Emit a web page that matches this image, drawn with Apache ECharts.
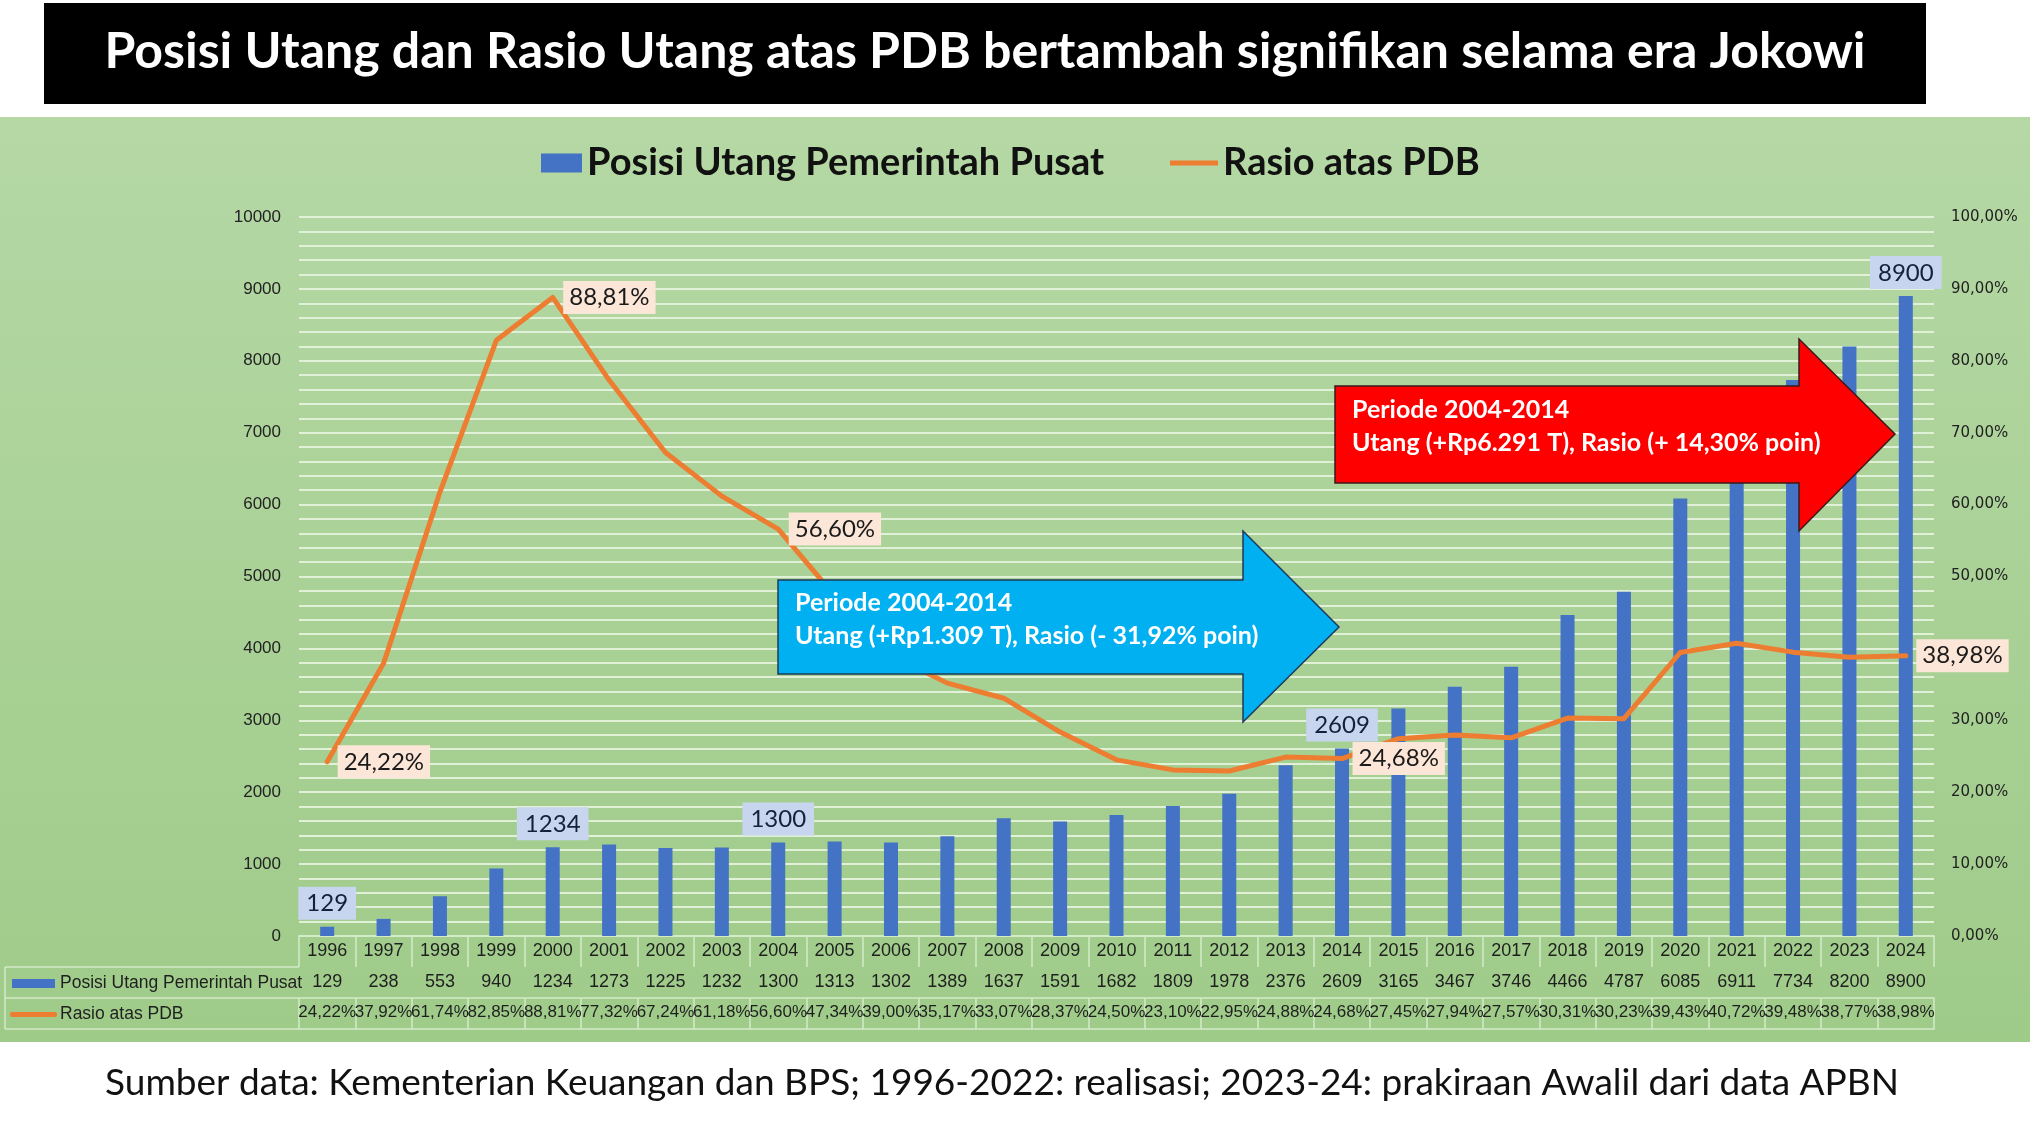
<!DOCTYPE html>
<html>
<head>
<meta charset="utf-8">
<script src="https://cdn.jsdelivr.net/npm/echarts@6/dist/echarts.min.js"></script>
<style>html,body{margin:0;padding:0;background:#ffffff}#c{width:2030px;height:1139px}</style>
</head>
<body>
<div id="c"></div>
<script>
// ---------- data ----------
const years = ['1996','1997','1998','1999','2000','2001','2002','2003','2004','2005','2006','2007','2008','2009','2010','2011','2012','2013','2014','2015','2016','2017','2018','2019','2020','2021','2022','2023','2024'];
const debt = [129,238,553,940,1234,1273,1225,1232,1300,1313,1302,1389,1637,1591,1682,1809,1978,2376,2609,3165,3467,3746,4466,4787,6085,6911,7734,8200,8900];
const ratio = [24.22,37.92,61.74,82.85,88.81,77.32,67.24,61.18,56.60,47.34,39.00,35.17,33.07,28.37,24.50,23.10,22.95,24.88,24.68,27.45,27.94,27.57,30.31,30.23,39.43,40.72,39.48,38.77,38.98];
const labelledYears = ['1996','2000','2004','2014','2024'];
const seriesNames = ['Posisi Utang Pemerintah Pusat','Rasio atas PDB'];
const titleText = 'Posisi Utang dan Rasio Utang atas PDB bertambah signifikan selama era Jokowi';
const footerText = 'Sumber data: Kementerian Keuangan dan BPS; 1996-2022: realisasi; 2023-24: prakiraan Awalil dari data APBN';
const blueArrowText = ['Periode 2004-2014','Utang (+Rp1.309 T), Rasio (- 31,92% poin)'];
const redArrowText = ['Periode 2004-2014','Utang (+Rp6.291 T), Rasio (+ 14,30% poin)'];

// ---------- font check ----------
function hasFont(name){
  const ctx=document.createElement('canvas').getContext('2d');
  const s='Posisi Utang 0123456789';
  ctx.font='20px monospace'; const a=ctx.measureText(s).width;
  ctx.font="20px '"+name+"', monospace"; const b=ctx.measureText(s).width;
  return Math.abs(a-b)>0.5;
}
const narrow = hasFont('Liberation Sans Narrow');
const NF = narrow ? "'Liberation Sans Narrow', sans-serif" : "'Liberation Sans', sans-serif";
const NS = narrow ? 20 : 18;      // years / values row
const NSP = narrow ? 20 : 17;     // ratio row

const pct = v => v.toFixed(2).replace('.',',') + '%';

const BLUE='#4472C4', ORANGE='#ED7D31';
const TBL='#d4eac8';

function tableAxis(offset, fmt, showTick, size){
  return {
    type:'category', data:years, position:'bottom', offset:offset,
    axisLine:{show:true, lineStyle:{color:TBL, width:1.5}},
    axisTick:{show:showTick, interval:0, length:31, lineStyle:{color:TBL, width:1.5}},
    axisLabel:{show:!!fmt, interval:0, margin:6, formatter:fmt||'', fontFamily:NF, fontSize:size||NS, color:'#1f1f1f'},
    splitLine:{show:false}
  };
}

const chart = echarts.init(document.getElementById('c'), null, {renderer:'canvas'});

const legendText = {fontFamily:'Lato', fontWeight:'bold', fontSize:38, color:'#111'};
const option = {
  animation:false,
  grid:{left:299, right:96, top:217, bottom:203},
  legend:[
    {data:[seriesNames[0]], left:536, top:139, icon:'rect', itemWidth:41, itemHeight:19, itemGap:0, textStyle:legendText},
    {data:[seriesNames[1]], left:1165, top:139, icon:'rect', itemWidth:48, itemHeight:5, itemGap:0, textStyle:legendText}
  ],
  xAxis:[
    tableAxis(0, (v)=>v, true, NS),
    tableAxis(31, (v,i)=>String(debt[i]), true, NS),
    tableAxis(62, (v,i)=>pct(ratio[i]), true, NSP),
    tableAxis(93, null, false)
  ],
  yAxis:[
    {type:'value', min:0, max:10000, interval:200,
     axisLine:{show:false}, axisTick:{show:false},
     axisLabel:{formatter:v=> (v%1000===0 ? String(v) : ''), fontFamily:NF, fontSize:17, color:'#222', margin:18},
     splitLine:{lineStyle:{color:'#e0f1d7', width:2}}},
    {type:'value', min:0, max:100, interval:10, position:'right',
     axisLine:{show:false}, axisTick:{show:false},
     axisLabel:{formatter:v=>pct(v), fontFamily:'DejaVu Sans', fontSize:15, color:'#222', margin:17},
     splitLine:{show:false}}
  ],
  series:[
    {name:seriesNames[0], type:'bar', xAxisIndex:0, yAxisIndex:0, barWidth:14,
     itemStyle:{color:BLUE},
     label:{position:'top', distance:7, backgroundColor:'#c7d5ee', padding:[5,8,4,8],
            fontFamily:'Lato', fontSize:24, color:'#16203a', formatter:p=>String(p.value)},
     data:debt.map((v,i)=>({value:v, label:{show:labelledYears.includes(years[i])}})),
     z:2},
    {name:seriesNames[1], type:'line', xAxisIndex:0, yAxisIndex:1, smooth:false,
     symbol:'circle', symbolSize:1, showSymbol:true, showAllSymbol:true,
     itemStyle:{color:ORANGE}, lineStyle:{color:ORANGE, width:5, cap:'round', join:'round'},
     label:{position:'right', distance:10, backgroundColor:'#fce6d8', padding:[5,6,4,6],
            fontFamily:'Lato', fontSize:24, color:'#1a1a1a', formatter:p=>pct(p.value)},
     data:ratio.map((v,i)=>({value:v, label:{show:labelledYears.includes(years[i])}})),
     z:3}
  ],
  graphic:[
    {type:'rect', z:-10, silent:true, shape:{x:0,y:117,width:2030,height:925},
     style:{fill:{type:'linear',x:0,y:0,x2:0,y2:1,colorStops:[{offset:0,color:'#b5d8a5'},{offset:1,color:'#9fcb89'}]}}},
    {type:'rect', z:10, shape:{x:44,y:3,width:1882,height:101}, style:{fill:'#000'}},
    {type:'text', z:11, x:985, y:52, style:{text:titleText, fill:'#fff', font:'bold 50px Lato', textAlign:'center', textVerticalAlign:'middle'}},
    {type:'text', z:11, x:1002, y:1083, style:{text:footerText, fill:'#111', font:'37px Lato', textAlign:'center', textVerticalAlign:'middle'}},
    // table left part
    {type:'line', z:5, shape:{x1:5,y1:967,x2:299,y2:967}, style:{stroke:TBL, lineWidth:1.5}},
    {type:'line', z:5, shape:{x1:5,y1:998,x2:299,y2:998}, style:{stroke:TBL, lineWidth:1.5}},
    {type:'line', z:5, shape:{x1:5,y1:1029,x2:299,y2:1029}, style:{stroke:TBL, lineWidth:1.5}},
    {type:'line', z:5, shape:{x1:5,y1:967,x2:5,y2:1029}, style:{stroke:TBL, lineWidth:1.5}},
    {type:'rect', z:5, shape:{x:12,y:979,width:43,height:9}, style:{fill:BLUE}},
    {type:'rect', z:5, shape:{x:10,y:1012,width:47,height:5, r:2}, style:{fill:ORANGE}},
    {type:'text', z:5, x:60, y:983, style:{text:seriesNames[0], fill:'#1f1f1f', font:'17.5px '+NF, textAlign:'left', textVerticalAlign:'middle'}},
    {type:'text', z:5, x:60, y:1014, style:{text:seriesNames[1], fill:'#1f1f1f', font:'17.5px '+NF, textAlign:'left', textVerticalAlign:'middle'}},
    // blue arrow
    {type:'polygon', z:20, shape:{points:[[778,580],[1243,580],[1243,531],[1339,627],[1243,722],[1243,674],[778,674]]},
     style:{fill:'#00b0f0', stroke:'#1f3a5a', lineWidth:1.5}},
    {type:'text', z:21, x:795, y:603, style:{text:blueArrowText[0], fill:'#fff', font:'bold 25px Lato', textAlign:'left', textVerticalAlign:'middle'}},
    {type:'text', z:21, x:795, y:636, style:{text:blueArrowText[1], fill:'#fff', font:'bold 25px Lato', textAlign:'left', textVerticalAlign:'middle'}},
    // red arrow
    {type:'polygon', z:20, shape:{points:[[1335,386],[1799,386],[1799,339],[1895,434],[1799,531],[1799,483],[1335,483]]},
     style:{fill:'#ff0000', stroke:'#3a1a1a', lineWidth:1.5}},
    {type:'text', z:21, x:1352, y:410, style:{text:redArrowText[0], fill:'#fff', font:'bold 25px Lato', textAlign:'left', textVerticalAlign:'middle'}},
    {type:'text', z:21, x:1352, y:443, style:{text:redArrowText[1], fill:'#fff', font:'bold 25px Lato', textAlign:'left', textVerticalAlign:'middle'}}
  ]
};
chart.setOption(option);
</script>
</body>
</html>
